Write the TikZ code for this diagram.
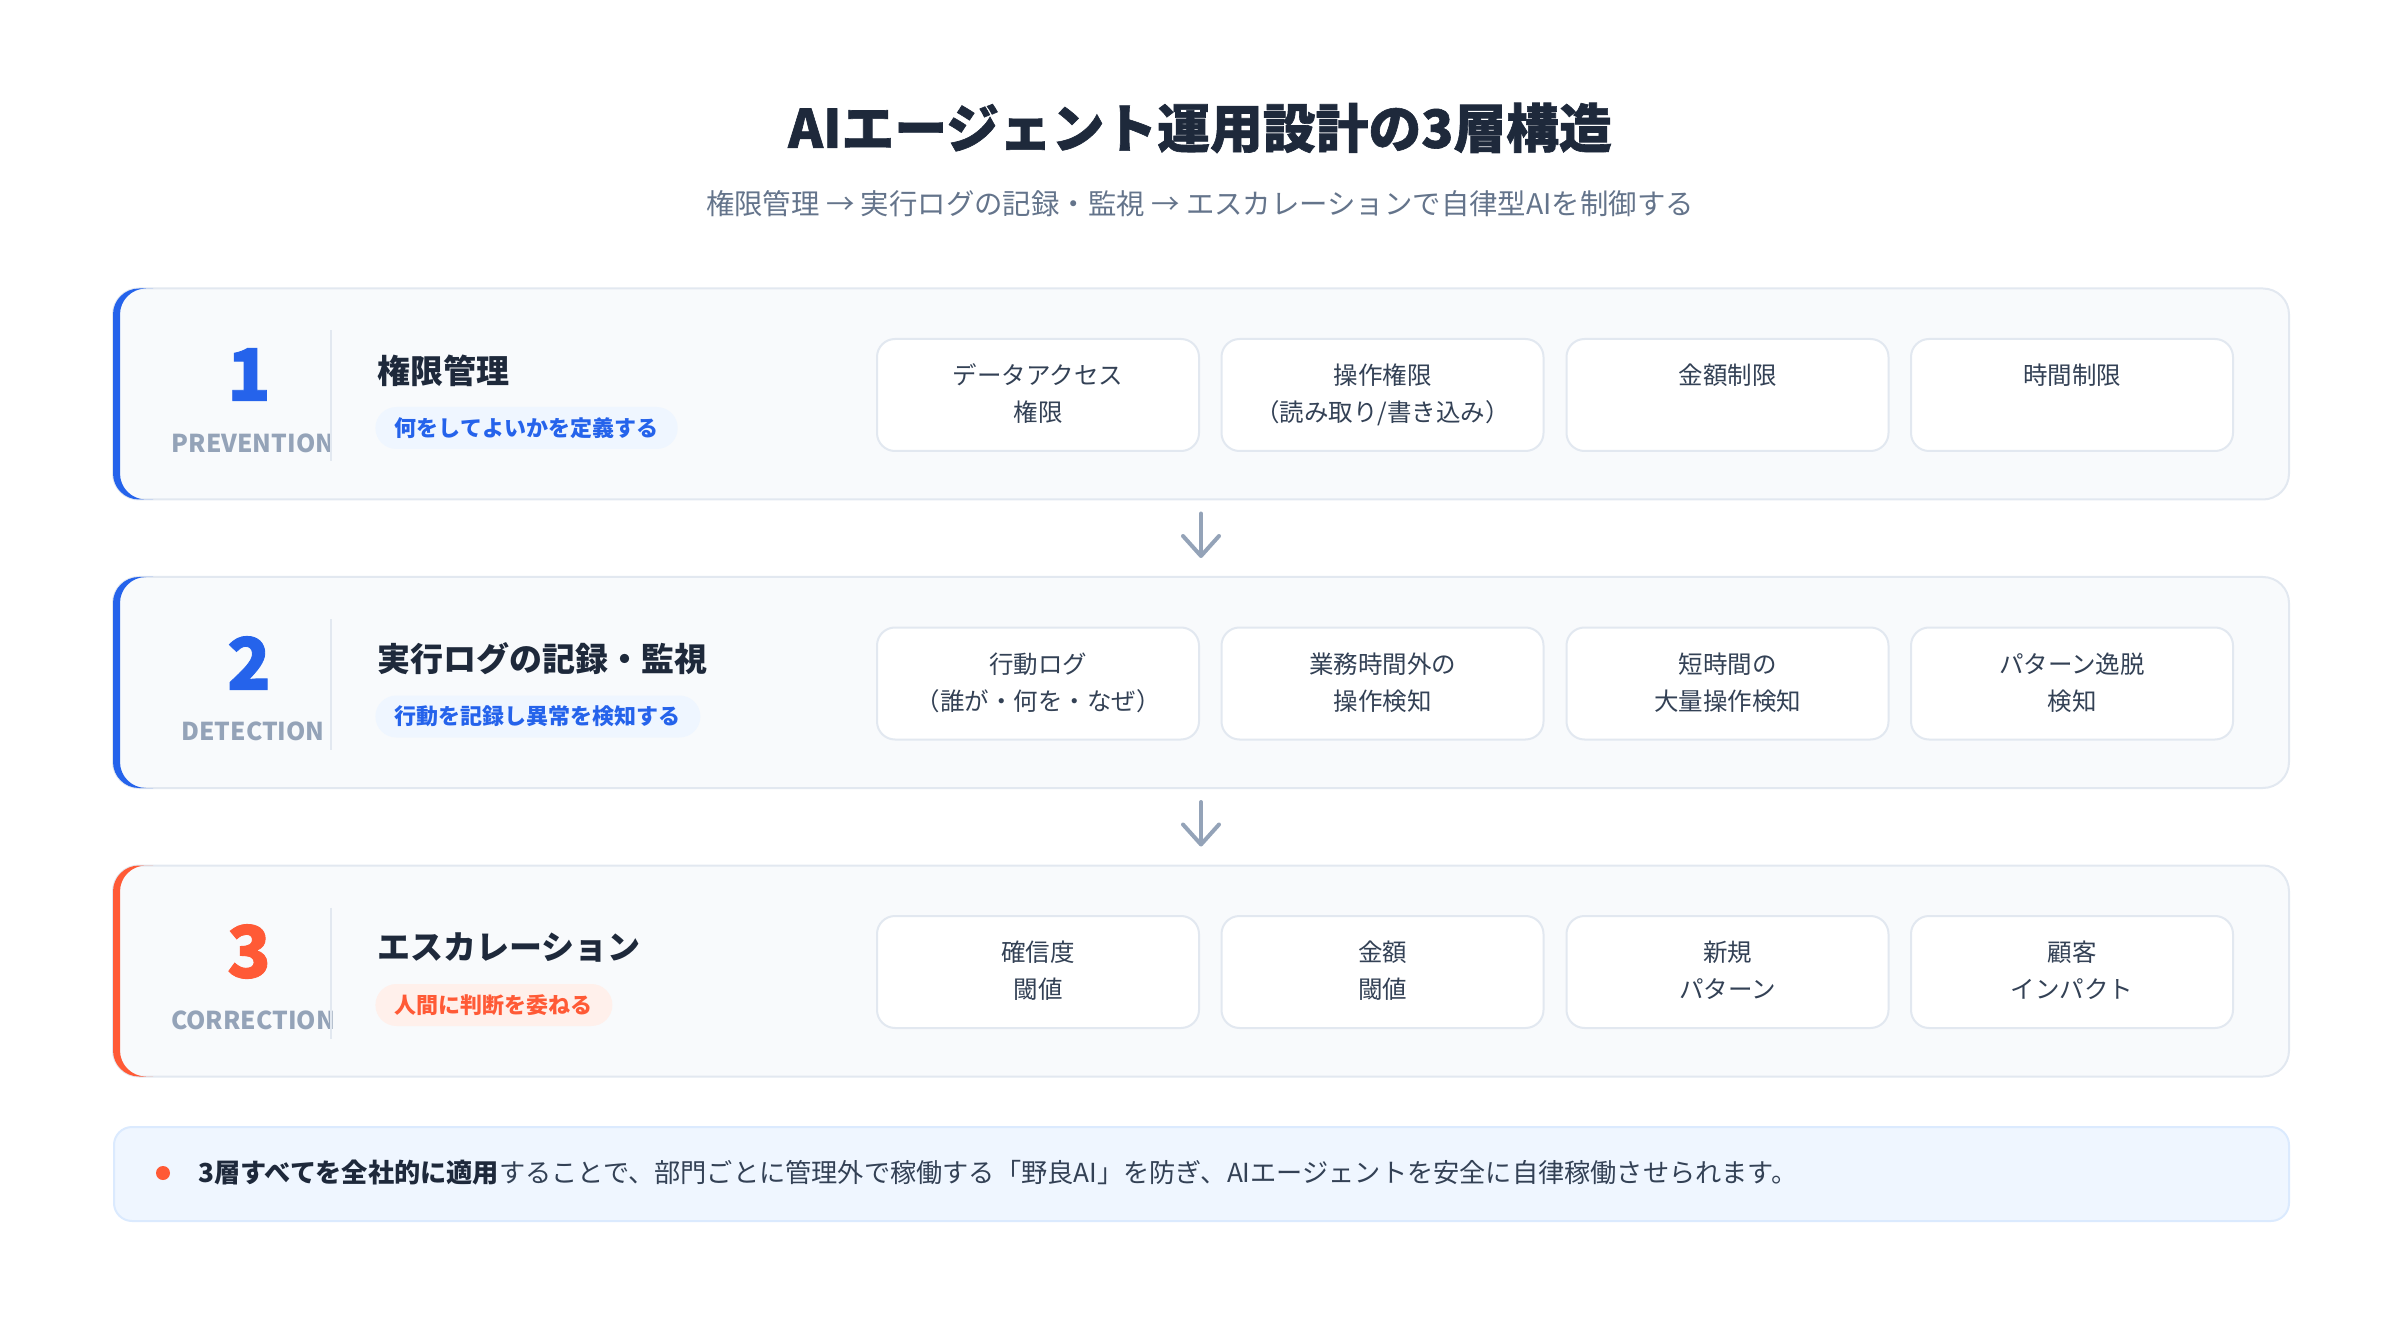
\documentclass[tikz,border=0pt]{standalone}
\usepackage{fontspec}
\setmainfont{Noto Sans CJK JP}
\newfontfamily\heavyfont{Noto Sans CJK JP}[BoldFeatures={FakeBold=1.2}]
\usetikzlibrary{arrows.meta}
\definecolor{ink}{HTML}{1E293B}
\definecolor{subink}{HTML}{64748B}
\definecolor{cardink}{HTML}{334155}
\definecolor{muted}{HTML}{94A3B8}
\definecolor{rule}{HTML}{E2E8F0}
\definecolor{panel}{HTML}{F8FAFC}
\definecolor{accblue}{HTML}{2563EB}
\definecolor{accorange}{HTML}{FF5A36}
\definecolor{tagblue}{HTML}{EFF6FF}
\definecolor{tagorange}{HTML}{FFF0EB}
\definecolor{noteline}{HTML}{DBEAFE}
\newcommand{\fs}[2]{\fontsize{#1}{#2}\selectfont}
\newcommand{\cardbody}[1]{\parbox[c][31pt][t]{150pt}{\centering\fs{12.25}{18.5}#1}}

\begin{document}
\begin{tikzpicture}[x=0.5pt,y=-0.5pt,
		layerbox/.style={draw=rule,line width=1pt,fill=panel,rounded corners=13pt,minimum width=1088pt,minimum height=105.5pt,inner sep=0pt,outer sep=0pt},
		card/.style={draw=rule,line width=1pt,fill=white,rounded corners=9pt,minimum width=161pt,minimum height=56pt,inner sep=0pt,text=cardink},
		stepnum/.style={inner sep=0pt,font=\heavyfont\bfseries\fs{36}{40}},
		stagename/.style={inner sep=0pt,text=muted,font=\bfseries\fs{12.3}{15}},
		layertitle/.style={anchor=west,inner sep=0pt,text=ink,font=\bfseries\fs{16.5}{20}},
		tag/.style={anchor=west,rounded corners=10.5pt,minimum height=21pt,inner xsep=9.75pt,inner ysep=0pt,font=\bfseries\fs{11}{13}},
		divider/.style={draw=rule,line width=1pt},
		flowarrow/.style={draw=muted,line width=2pt,line cap=round,-{Straight Barb[length=10pt,width=18pt,round]},shorten <=7pt,shorten >=9.5pt}
		]
		\useasboundingbox (0,0) rectangle (2400,1326);
		%Draw heading
		\path (1200,128) node[inner sep=0pt,text=ink,font=\heavyfont\bfseries\fs{26.4}{30}] (title) {AIエージェント運用設計の3層構造}
		(1200,204) node[inner sep=0pt,text=subink,font=\fs{14.2}{17}] (subtitle) {権限管理 → 実行ログの記録・監視 → エスカレーションで自律型AIを制御する};
		
		%Draw layer 1
		\path (1201,394) node[layerbox] (prevbox) {};
		\begin{scope}
			\clip (prevbox.north west) rectangle ([xshift=20pt]prevbox.south west);
			\fill[accblue,even odd rule,rounded corners=13pt] (prevbox.north west) rectangle (prevbox.south east) ([xshift=3.5pt]prevbox.north west) rectangle ([xshift=3.5pt]prevbox.south east);
		\end{scope}
		\path (1201,394) +(-952,-19.5) node[stepnum,text=accblue] (prevnum) {1}
		+(-948,49) node[stagename] (prevname) {PREVENTION}
		+(-870,-63.5) coordinate (prevsepa)
		+(-870,67.5) coordinate (prevsepb)
		+(-824,-23.5) node[layertitle] (prevtitle) {権限管理}
		+(-826,34) node[tag,fill=tagblue,text=accblue] (prevtag) {何をしてよいかを定義する}
		+(-163,1) node[card] (prevdata) {\cardbody{データアクセス\\権限}}
		+(181.5,1) node[card] (prevop) {\cardbody{操作権限\\（読み取り/書き込み）}}
		+(526.5,1) node[card] (prevamt) {\cardbody{金額制限}}
		+(871,1) node[card] (prevtime) {\cardbody{時間制限}};
		\draw[divider] (prevsepa) -- (prevsepb);
		
		%Draw layer 2
		\path (1201,682.5) node[layerbox] (detbox) {};
		\begin{scope}
			\clip (detbox.north west) rectangle ([xshift=20pt]detbox.south west);
			\fill[accblue,even odd rule,rounded corners=13pt] (detbox.north west) rectangle (detbox.south east) ([xshift=3.5pt]detbox.north west) rectangle ([xshift=3.5pt]detbox.south east);
		\end{scope}
		\path (1201,682.5) +(-952,-19.5) node[stepnum,text=accblue] (detnum) {2}
		+(-948,49) node[stagename] (detname) {DETECTION}
		+(-870,-63.5) coordinate (detsepa)
		+(-870,67.5) coordinate (detsepb)
		+(-824,-23.5) node[layertitle] (dettitle) {実行ログの記録・監視}
		+(-826,34) node[tag,fill=tagblue,text=accblue] (dettag) {行動を記録し異常を検知する}
		+(-163,1) node[card] (detlog) {\cardbody{行動ログ\\（誰が・何を・なぜ）}}
		+(181.5,1) node[card] (detoff) {\cardbody{業務時間外の\\操作検知}}
		+(526.5,1) node[card] (detbulk) {\cardbody{短時間の\\大量操作検知}}
		+(871,1) node[card] (detpat) {\cardbody{パターン逸脱\\検知}};
		\draw[divider] (detsepa) -- (detsepb);
		
		%Draw layer 3
		\path (1201,971) node[layerbox] (corbox) {};
		\begin{scope}
			\clip (corbox.north west) rectangle ([xshift=20pt]corbox.south west);
			\fill[accorange,even odd rule,rounded corners=13pt] (corbox.north west) rectangle (corbox.south east) ([xshift=3.5pt]corbox.north west) rectangle ([xshift=3.5pt]corbox.south east);
		\end{scope}
		\path (1201,971) +(-952,-19.5) node[stepnum,text=accorange] (cornum) {3}
		+(-948,49) node[stagename] (corname) {CORRECTION}
		+(-870,-63.5) coordinate (corsepa)
		+(-870,67.5) coordinate (corsepb)
		+(-824,-23.5) node[layertitle] (cortitle) {エスカレーション}
		+(-826,34) node[tag,fill=tagorange,text=accorange] (cortag) {人間に判断を委ねる}
		+(-163,1) node[card] (corconf) {\cardbody{確信度\\閾値}}
		+(181.5,1) node[card] (coramt) {\cardbody{金額\\閾値}}
		+(526.5,1) node[card] (cornew) {\cardbody{新規\\パターン}}
		+(871,1) node[card] (corcust) {\cardbody{顧客\\インパクト}};
		\draw[divider] (corsepa) -- (corsepb);
		
		%Draw flow between layers
		\draw[flowarrow] (prevbox.south) -- (detbox.north);
		\draw[flowarrow] (detbox.south) -- (corbox.north);
		
		%Draw note
		\path (1201.5,1174) node[draw=noteline,line width=1pt,fill=tagblue,rounded corners=9pt,minimum width=1087.5pt,minimum height=47pt,inner sep=0pt] (notebox) {}
		(163,1173) node[circle,fill=accorange,minimum size=7pt,inner sep=0pt] (notedot) {}
		(198,1173) node[anchor=west,inner sep=0pt,text=cardink,font=\fs{13.1}{15}] (notetext) {\textcolor{ink}{\bfseries 3層すべてを全社的に適用}することで、部門ごとに管理外で稼働する「野良AI」を防ぎ、AIエージェントを安全に自律稼働させられます。};
	\end{tikzpicture}
\end{document}
